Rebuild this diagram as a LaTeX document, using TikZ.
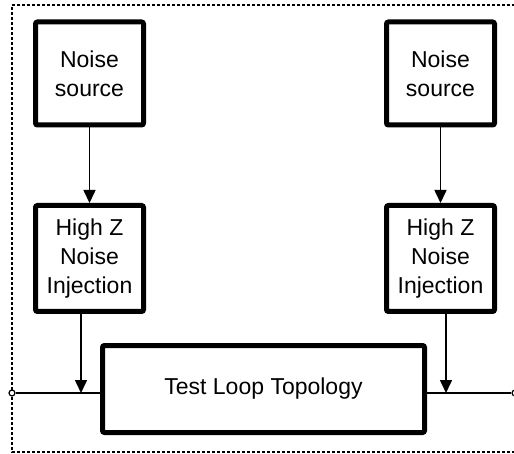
\documentclass[tikz,border=0pt]{standalone}
\usepackage{fontspec}
\setmainfont{Liberation Sans}
\usetikzlibrary{arrows.meta}
\tikzset{
    blk/.style={draw, line width=5pt, rounded corners=2pt, align=center, inner sep=0pt, font=\fontsize{23}{29}\selectfont},
    sig/.style={line width=1.6pt, -{Triangle[length=13pt,width=12pt]}},
    port/.style={circle, draw, line width=1.2pt, fill=white, inner sep=0pt, minimum size=6pt}
}

\begin{document}
\begin{tikzpicture}[x=1pt,y=-1pt]
\useasboundingbox (0,0) rectangle (514,454);
\draw[line width=1.2pt, dash pattern=on 3pt off 2pt] (520,5) -- (12,5) -- (12,452) -- (520,452);
\foreach \p/\x/\j in {l/89.5/81, r/440.5/446}{
    \node[blk, minimum width=108pt, minimum height=103pt] (ns\p) at (\x,73.5) {Noise\\source};
    \node[blk, minimum width=108pt, minimum height=106pt] (hz\p) at (\x,258.5) {High Z\\Noise\\Injection};
    \coordinate (in\p) at (\j,393);
    \draw[sig] (ns\p) -- (hz\p);
    \draw[sig] (hz\p.south -| in\p) -- (in\p);
}
\node[blk, minimum width=322pt, minimum height=87pt] (tl) at (263.5,389) {Test Loop Topology};
\node[port] (pl) at (12,393) {};
\node[port] (pr) at (515,393) {};
\draw[line width=1.6pt] (pl) -- (tl.west |- pl);
\draw[line width=1.6pt] (tl.east |- pr) -- (pr);
\end{tikzpicture}
\end{document}
